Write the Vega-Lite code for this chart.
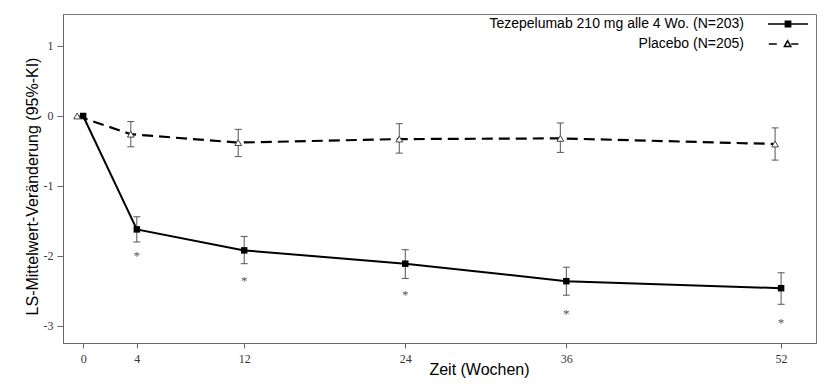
{
  "$schema": "https://vega.github.io/schema/vega-lite/v6.json",
  "width": 753,
  "height": 329,
  "autosize": {"type": "none"},
  "padding": {"left": 63, "top": 14, "right": 12, "bottom": 41},
  "background": "white",
  "config": {
    "view": {"stroke": "#777", "strokeWidth": 1},
    "axis": {
      "domainColor": "#666",
      "tickColor": "#666",
      "labelFont": "Liberation Serif",
      "labelFontSize": 12,
      "labelColor": "#333",
      "titleFont": "Liberation Sans",
      "titleFontSize": 16,
      "titleFontWeight": "normal",
      "titleColor": "black",
      "grid": false
    },
    "axisX": {"tickSize": 5, "labelPadding": 5, "titleX": 416, "titleY": 31, "titleBaseline": "alphabetic", "titleAlign": "center"},
    "axisY": {"tickSize": 6, "labelPadding": 4, "titleX": -26, "titleY": 172, "titleBaseline": "alphabetic", "titleAngle": -90, "titleAlign": "center"},
    "legend": {
      "orient": "none",
      "legendX": 716,
      "legendY": 1,
      "padding": 0,
      "labelFont": "Liberation Sans",
      "labelFontSize": 14,
      "labelColor": "black",
      "labelAlign": "right",
      "labelOffset": -53,
      "labelLimit": 400,
      "symbolSize": 256,
      "symbolStrokeWidth": 1.5,
      "rowPadding": 4
    }
  },
  "data": {
    "values": [
      {"group": "Tezepelumab 210 mg alle 4 Wo. (N=203)", "arm": "T", "week": 0, "mean": 0, "lo": null, "hi": null, "star": null},
      {"group": "Tezepelumab 210 mg alle 4 Wo. (N=203)", "arm": "T", "week": 4, "mean": -1.62, "lo": -1.80, "hi": -1.44, "star": -1.96},
      {"group": "Tezepelumab 210 mg alle 4 Wo. (N=203)", "arm": "T", "week": 12, "mean": -1.92, "lo": -2.11, "hi": -1.72, "star": -2.31},
      {"group": "Tezepelumab 210 mg alle 4 Wo. (N=203)", "arm": "T", "week": 24, "mean": -2.11, "lo": -2.32, "hi": -1.91, "star": -2.51},
      {"group": "Tezepelumab 210 mg alle 4 Wo. (N=203)", "arm": "T", "week": 36, "mean": -2.36, "lo": -2.56, "hi": -2.16, "star": -2.78},
      {"group": "Tezepelumab 210 mg alle 4 Wo. (N=203)", "arm": "T", "week": 52, "mean": -2.46, "lo": -2.69, "hi": -2.24, "star": -2.92},
      {"group": "Placebo (N=205)", "arm": "P", "week": 0, "mean": 0, "lo": null, "hi": null, "star": null},
      {"group": "Placebo (N=205)", "arm": "P", "week": 4, "mean": -0.26, "lo": -0.44, "hi": -0.08, "star": null},
      {"group": "Placebo (N=205)", "arm": "P", "week": 12, "mean": -0.38, "lo": -0.58, "hi": -0.19, "star": null},
      {"group": "Placebo (N=205)", "arm": "P", "week": 24, "mean": -0.33, "lo": -0.53, "hi": -0.11, "star": null},
      {"group": "Placebo (N=205)", "arm": "P", "week": 36, "mean": -0.32, "lo": -0.52, "hi": -0.10, "star": null},
      {"group": "Placebo (N=205)", "arm": "P", "week": 52, "mean": -0.40, "lo": -0.63, "hi": -0.17, "star": null}
    ]
  },
  "encoding": {
    "x": {
      "field": "week",
      "type": "quantitative",
      "scale": {"domain": [-1.5, 54.6], "nice": false, "zero": false},
      "axis": {"values": [0, 4, 12, 24, 36, 52], "title": "Zeit (Wochen)"}
    }
  },
  "layer": [
    {
      "transform": [{"filter": "datum.arm == 'T'"}],
      "layer": [
        {
          "mark": {"type": "line", "strokeWidth": 2},
          "encoding": {
            "y": {"field": "mean", "type": "quantitative", "scale": {"domain": [-3.243, 1.457], "nice": false, "zero": false}, "axis": {"values": [1, 0, -1, -2, -3], "labelExpr": "'' + datum.value", "title": "LS-Mittelwert-Veränderung (95%-KI)"}},
            "color": {
              "field": "group",
              "type": "nominal",
              "scale": {"domain": ["Tezepelumab 210 mg alle 4 Wo. (N=203)", "Placebo (N=205)"], "range": ["black", "black"]},
              "legend": {
                "title": null,
                "encode": {
                  "symbols": {
                    "update": {
                      "shape": {"signal": "datum.value == 'Placebo (N=205)' ? 'M-2.4,0H-1.4M0.4,0H1.3M-0.45,0.3L-0.05,-0.4L0.35,0.3Z' : 'M-2.5,0H2.5M-0.33,-0.33H0.33V0.33H-0.33Z'"},
                      "fill": {"signal": "datum.value == 'Placebo (N=205)' ? 'white' : 'black'"},
                      "stroke": {"signal": "datum.value == 'Placebo (N=205)' ? '#666' : 'black'"},
                      "strokeDash": {"value": [1, 0]},
                      "opacity": {"value": 1}
                    }
                  }
                }
              }
            }
          }
        },
        {
          "transform": [{"filter": "isValid(datum.lo)"}],
          "mark": {"type": "rule", "color": "#555", "strokeWidth": 1},
          "encoding": {
            "y": {"field": "lo", "type": "quantitative", "title": "LS-Mittelwert-Veränderung (95%-KI)"},
            "y2": {"field": "hi"}
          }
        },
        {
          "transform": [{"filter": "isValid(datum.lo)"}],
          "mark": {"type": "tick", "orient": "horizontal", "color": "#555", "size": 7, "thickness": 1, "opacity": 1},
          "encoding": {"y": {"field": "lo", "type": "quantitative", "title": "LS-Mittelwert-Veränderung (95%-KI)"}}
        },
        {
          "transform": [{"filter": "isValid(datum.hi)"}],
          "mark": {"type": "tick", "orient": "horizontal", "color": "#555", "size": 7, "thickness": 1, "opacity": 1},
          "encoding": {"y": {"field": "hi", "type": "quantitative", "title": "LS-Mittelwert-Veränderung (95%-KI)"}}
        },
        {
          "mark": {"type": "point", "shape": "square", "filled": true, "color": "black", "size": 42, "opacity": 1},
          "encoding": {"y": {"field": "mean", "type": "quantitative", "title": "LS-Mittelwert-Veränderung (95%-KI)"}}
        },
        {
          "transform": [{"filter": "isValid(datum.star)"}],
          "mark": {"type": "text", "text": "*", "font": "Liberation Serif", "fontSize": 13, "color": "#555", "baseline": "middle", "dy": 3},
          "encoding": {"y": {"field": "star", "type": "quantitative", "title": "LS-Mittelwert-Veränderung (95%-KI)"}}
        }
      ]
    },
    {
      "transform": [{"filter": "datum.arm == 'P'"}],
      "layer": [
        {
          "mark": {"type": "line", "strokeWidth": 2.2, "strokeDash": [11, 6], "xOffset": -6},
          "encoding": {
            "y": {"field": "mean", "type": "quantitative", "title": "LS-Mittelwert-Veränderung (95%-KI)"},
            "color": {"field": "group", "type": "nominal"}
          }
        },
        {
          "transform": [{"filter": "isValid(datum.lo)"}],
          "mark": {"type": "rule", "color": "#555", "strokeWidth": 1, "xOffset": -6},
          "encoding": {
            "y": {"field": "lo", "type": "quantitative", "title": "LS-Mittelwert-Veränderung (95%-KI)"},
            "y2": {"field": "hi"}
          }
        },
        {
          "transform": [{"filter": "isValid(datum.lo)"}],
          "mark": {"type": "tick", "orient": "horizontal", "color": "#555", "size": 7, "thickness": 1, "opacity": 1, "xOffset": -6},
          "encoding": {"y": {"field": "lo", "type": "quantitative", "title": "LS-Mittelwert-Veränderung (95%-KI)"}}
        },
        {
          "transform": [{"filter": "isValid(datum.hi)"}],
          "mark": {"type": "tick", "orient": "horizontal", "color": "#555", "size": 7, "thickness": 1, "opacity": 1, "xOffset": -6},
          "encoding": {"y": {"field": "hi", "type": "quantitative", "title": "LS-Mittelwert-Veränderung (95%-KI)"}}
        },
        {
          "mark": {"type": "point", "shape": "triangle-up", "filled": true, "fill": "white", "stroke": "#444", "strokeWidth": 1, "size": 45, "opacity": 1, "xOffset": -6},
          "encoding": {"y": {"field": "mean", "type": "quantitative", "title": "LS-Mittelwert-Veränderung (95%-KI)"}}
        }
      ]
    }
  ]
}
